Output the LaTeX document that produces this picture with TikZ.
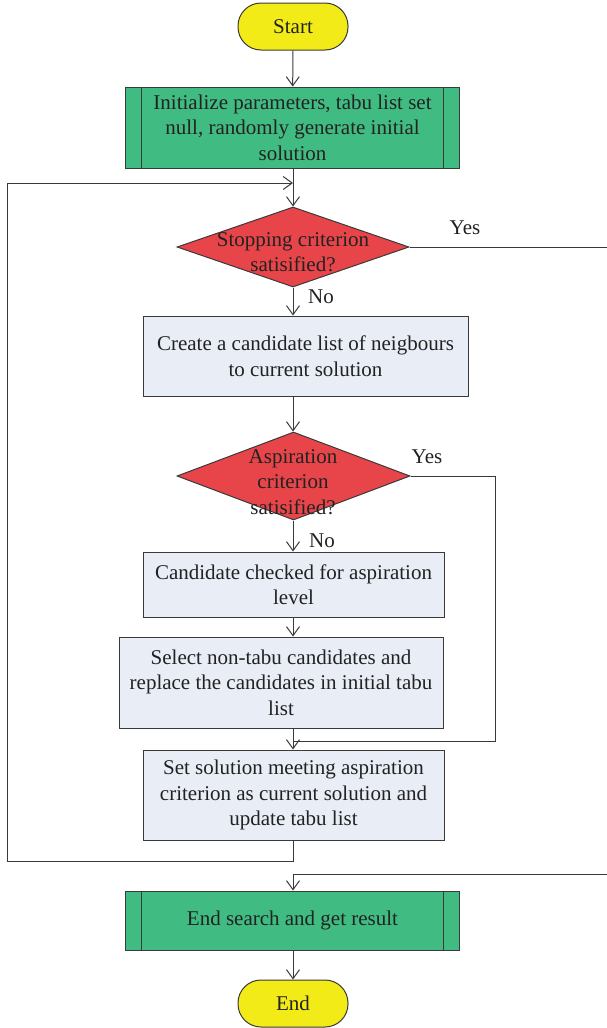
\documentclass[tikz,border=0pt]{standalone}
\usepackage{fontspec}
\setmainfont{Liberation Serif}
\usetikzlibrary{shapes.geometric,arrows.meta}
\definecolor{termfill}{HTML}{F3EB17}
\definecolor{procfill}{HTML}{40BB82}
\definecolor{decfill}{HTML}{E7454A}
\definecolor{stepfill}{HTML}{E8EDF6}
\definecolor{edge}{HTML}{3A3A3A}
\definecolor{ink}{HTML}{222222}
\tikzset{
  txt/.style={font=\fontsize{21}{25.5}\selectfont, text=ink},
  base/.style={draw=edge, line width=1pt, inner sep=0pt, txt, align=center},
  term/.style={base, fill=termfill, rounded corners=23pt, minimum width=110pt, minimum height=47pt},
  predef/.style={base, fill=procfill, minimum width=334pt},
  stepbox/.style={base, fill=stepfill},
  decision/.style={draw=edge, line width=1pt, fill=decfill, diamond, inner sep=0pt},
  lbl/.style={txt, inner sep=0pt, align=center},
  flow/.style={draw=edge, line width=1pt},
  arr/.style={flow, -{Straight Barb[length=9pt, width=13pt, line width=1pt]}}
}
\begin{document}
\begin{tikzpicture}[x=1pt, y=-1pt]
\useasboundingbox (0,0) rectangle (606,1028);

% terminals
\node[term] (start) at (293,26.5) {Start};
\node[term] (end) at (293,1003.5) {End};

% predefined-process boxes
\node[predef, minimum height=81pt] (init) at (292.5,127.5)
  {Initialize parameters, tabu list set\\null, randomly generate initial\\solution};
\draw[flow] ([xshift=16.5pt]init.north west) -- ([xshift=16.5pt]init.south west);
\draw[flow] ([xshift=-16.5pt]init.north east) -- ([xshift=-16.5pt]init.south east);

\node[predef, minimum height=59pt] (result) at (292.5,920.5) {End search and get result};
\draw[flow] ([xshift=16.5pt]result.north west) -- ([xshift=16.5pt]result.south west);
\draw[flow] ([xshift=-16.5pt]result.north east) -- ([xshift=-16.5pt]result.south east);

% decisions
\node[decision, minimum width=232pt, minimum height=80pt] (stop) at (293,247) {};
\node[lbl] (stoptext) at (293,252) {Stopping criterion\\satisified?};
\node[decision, minimum width=233pt, minimum height=88pt] (asp) at (293.5,476) {};
\node[lbl] (asptext) at (293,482) {Aspiration\\criterion\\satisified?};

% process steps
\node[stepbox, minimum width=325pt, minimum height=80pt] (create) at (305.5,356)
  {Create a candidate list of neigbours\\to current solution};
\node[stepbox, minimum width=301pt, minimum height=65pt] (check) at (293.5,584.5)
  {Candidate checked for aspiration\\level};
\node[stepbox, minimum width=324pt, minimum height=91pt] (select) at (281,682.5)
  {Select non-tabu candidates and\\replace the candidates in initial tabu\\list};
\node[stepbox, minimum width=301pt, minimum height=90pt] (update) at (293.5,795)
  {Set solution meeting aspiration\\criterion as current solution and\\update tabu list};

% labels
\node[lbl] (yes1) at (465,228) {Yes};
\node[lbl] (no1) at (321,297) {No};
\node[lbl] (yes2) at (427,457) {Yes};
\node[lbl] (no2) at (322,541) {No};

% helper points
\coordinate (loopin) at (293,183);
\coordinate (loopout) at (293,861);
\coordinate (joinA) at (293,741);
\coordinate (joinB) at (293,874);

% main flow
\draw[arr] (start) -- (init);
\draw[arr] (init.south -| stop) -- (stop.north);
\draw[arr] (stop.south) -- (stop.south |- create.north);
\draw[arr] (create.south -| stop) -- (asp.north -| stop);
\draw[arr] (asp.south -| stop) -- (check.north -| stop);
\draw[arr] (check.south -| stop) -- (select.north -| stop);
\draw[arr] (select.south -| stop) -- (update.north -| stop);
\draw[arr] (joinB) -- (result.north -| joinB);
\draw[arr] (result.south -| end) -- (end);

% iteration loop back to the stopping test
\draw[flow] (update.south -| loopout) -- (loopout) -- (7,861) -- (7,183);
\draw[arr] (7,183) -- (loopin);

% aspiration "Yes" branch
\draw[flow] (asp.east) -- (495,476) -- (495,741) -- (joinA);

% stopping "Yes" branch
\draw[flow] (stop.east) -- (620,247) -- (620,874) -- (joinB);
\end{tikzpicture}
\end{document}
